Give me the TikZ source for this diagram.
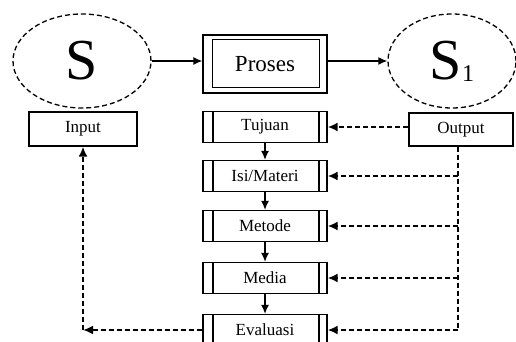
\documentclass[tikz,border=0pt]{standalone}
\usepackage{fontspec}
\setmainfont{Liberation Serif}
\usetikzlibrary{shapes.geometric,arrows.meta,calc}
\begin{document}
\begin{tikzpicture}[x=1pt,y=-1pt,
  state/.style={ellipse,draw,line width=1.3pt,dash pattern=on 5pt off 3pt,minimum width=138pt,minimum height=94pt,inner sep=0pt},
  iobox/.style={draw,line width=1.2pt,minimum width=108pt,minimum height=34pt,inner sep=0pt,font=\fontsize{17}{18}\selectfont},
  stepbox/.style={draw,line width=1.2pt,minimum width=124pt,minimum height=31pt,inner sep=0pt,font=\fontsize{17}{18}\selectfont,
    path picture={\draw[line width=1.2pt] ([xshift=10pt]path picture bounding box.north west) -- ([xshift=10pt]path picture bounding box.south west)
      ([xshift=-8pt]path picture bounding box.north east) -- ([xshift=-8pt]path picture bounding box.south east);}},
  flow/.style={line width=1.4pt,-{Latex[length=9pt,width=8pt]}},
  dflow/.style={line width=2pt,dash pattern=on 5pt off 3pt,-{Latex[length=10pt,width=9pt]}},
  dline/.style={line width=2pt,dash pattern=on 5pt off 3pt}]
\useasboundingbox (0,0) rectangle (516,342);
\clip (0,0) rectangle (516,342);
\node[state] (s) at (82,61) {\fontsize{58}{58}\selectfont S};
\node[state,minimum width=128pt] (s1) at (452,61) {\fontsize{58}{58}\selectfont S\fontsize{24}{24}\selectfont\raisebox{-2pt}{1}};
\node[draw,line width=1.2pt,minimum width=124pt,minimum height=58pt,inner sep=0pt,font=\fontsize{23}{26}\selectfont] (proses) at (265,64) {Proses};
\draw[line width=1.2pt] ($(proses.north west)+(10,5)$) rectangle ($(proses.south east)+(-8,-6)$);
\node[iobox] (input) at (83,129) {Input};
\node[iobox,minimum width=104pt,minimum height=33pt] (output) at (461,129.5) {Output};
\node[stepbox] (tujuan) at (265,127) {Tujuan};
\node[stepbox] (isi) at (265,176) {Isi/Materi};
\node[stepbox] (metode) at (265,226) {Metode};
\node[stepbox] (media) at (265,278) {Media};
\node[stepbox] (eval) at (265,330) {Evaluasi};
\draw[flow] (s.east) -- (s.east -| proses.west);
\draw[flow] (proses.east |- s1.west) -- (s1.west);
\draw[flow] (tujuan) -- (isi);
\draw[flow] (isi) -- (metode);
\draw[flow] (metode) -- (media);
\draw[flow] (media) -- (eval);
\coordinate (trunk) at (458,330);
\coordinate (corner) at (83,330);
\draw[dflow] (output.west |- tujuan.east) -- (tujuan.east);
\draw[dline] ([xshift=-3pt]output.south) -- (trunk);
\draw[dflow] (isi.east -| trunk) -- (isi.east);
\draw[dflow] (metode.east -| trunk) -- (metode.east);
\draw[dflow] (media.east -| trunk) -- (media.east);
\draw[dflow] (trunk) -- (eval.east);
\draw[dflow] (eval.west) -- (corner);
\draw[dflow] (corner) -- (input.south);
\end{tikzpicture}
\end{document}
